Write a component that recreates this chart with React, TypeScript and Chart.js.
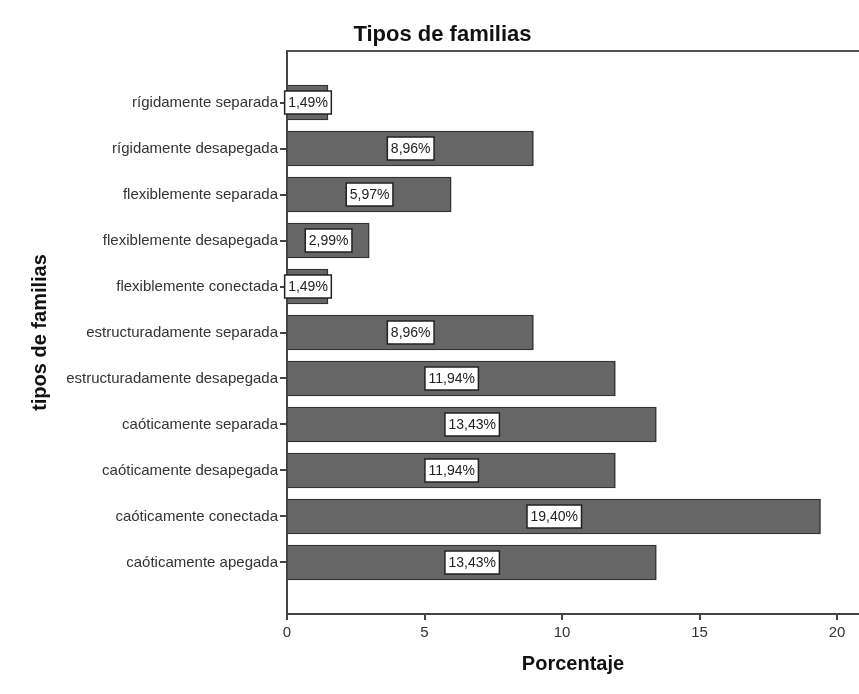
import React, { useEffect, useRef } from "react";
import { Chart, registerables } from "chart.js";

Chart.register(...registerables);

const categories = [
  "rígidamente separada",
  "rígidamente desapegada",
  "flexiblemente separada",
  "flexiblemente desapegada",
  "flexiblemente conectada",
  "estructuradamente separada",
  "estructuradamente desapegada",
  "caóticamente separada",
  "caóticamente desapegada",
  "caóticamente conectada",
  "caóticamente apegada",
];
const values = [1.49, 8.96, 5.97, 2.99, 1.49, 8.96, 11.94, 13.43, 11.94, 19.4, 13.43];
const xTicks = [0, 5, 10, 15, 20];

const FONT = '"Liberation Sans", Arial, sans-serif';

const fmt = (v: number) => v.toFixed(2).replace(".", ",") + "%";

const topFrame = {
  id: "topFrame",
  afterDraw(chart: any) {
    const { ctx, chartArea } = chart;
    ctx.save();
    ctx.strokeStyle = "#555";
    ctx.lineWidth = 2;
    ctx.beginPath();
    ctx.moveTo(chartArea.left, chartArea.top);
    ctx.lineTo(chartArea.right, chartArea.top);
    ctx.stroke();
    ctx.restore();
  },
};

const barLabels = {
  id: "barLabels",
  afterDatasetsDraw(chart: any) {
    const { ctx } = chart;
    const meta = chart.getDatasetMeta(0);
    ctx.save();
    ctx.font = `14px ${FONT}`;
    ctx.textAlign = "center";
    ctx.textBaseline = "middle";
    meta.data.forEach((bar: any, i: number) => {
      const { x, y, base } = bar.getProps(["x", "y", "base"], true);
      const cx = (x + base) / 2;
      const text = fmt(values[i]);
      const w = ctx.measureText(text).width + 7;
      const h = 23;
      ctx.fillStyle = "#fff";
      ctx.strokeStyle = "#222";
      ctx.lineWidth = 1.5;
      ctx.beginPath();
      ctx.rect(cx - w / 2, y - h / 2, w, h);
      ctx.fill();
      ctx.stroke();
      ctx.fillStyle = "#222";
      ctx.fillText(text, cx, y + 1);
    });
    ctx.restore();
  },
};

export default function App() {
  const ref = useRef<HTMLCanvasElement>(null);
  useEffect(() => {
    if (!ref.current) return;
    const chart = new Chart(ref.current, {
      type: "bar",
      data: {
        datasets: [
          {
            data: values.map((v, i) => ({ x: v, y: i })) as any,
            backgroundColor: "#666666",
            borderColor: "#333333",
            borderWidth: 1.5,
            barThickness: 35,
          },
        ],
      },
      options: {
        indexAxis: "y",
        responsive: false,
        animation: false,
        layout: { padding: { left: 26, right: 0, top: 0, bottom: 0 } },
        plugins: {
          legend: { display: false },
          tooltip: { enabled: false },
          title: {
            display: true,
            text: "Tipos de familias",
            color: "#111",
            font: { size: 22, weight: "bold", family: FONT },
            padding: { top: 22, bottom: 2.6 },
          },
        },
        scales: {
          x: {
            type: "linear",
            position: "bottom",
            min: 0,
            max: 20.8,
            offset: false,
            afterBuildTicks: (s: any) => {
              s.ticks = xTicks.map((v) => ({ value: v }));
            },
            ticks: {
              includeBounds: false,
              color: "#333",
              font: { size: 15, family: FONT },
              padding: 4,
              maxRotation: 0,
            },
            grid: { offset: false, drawOnChartArea: false, tickLength: 6, tickColor: "#444", lineWidth: 2 },
            border: { color: "#444", width: 2 },
            title: {
              display: true,
              text: "Porcentaje",
              color: "#111",
              font: { size: 20, weight: "bold", family: FONT },
              padding: { top: 0, bottom: 18 },
            },
            afterFit: (s: any) => {
              s.height = 80;
            },
          } as any,
          y: {
            type: "linear",
            reverse: true,
            min: -1.12,
            max: 11.12,
            offset: false,
            afterBuildTicks: (s: any) => {
              s.ticks = categories.map((_, i) => ({ value: i }));
            },
            ticks: {
              autoSkip: false,
              color: "#333",
              font: { size: 15, family: FONT },
              padding: 2,
              callback: (v: any) => categories[v as number] ?? "",
            },
            grid: { offset: false, drawOnChartArea: false, tickLength: 7, tickColor: "#444", lineWidth: 2 },
            border: { color: "#444", width: 2 },
            title: {
              display: true,
              text: "tipos de familias",
              color: "#111",
              font: { size: 20, weight: "bold", family: FONT },
              padding: { top: 2, bottom: 0 },
            },
            afterFit: (s: any) => {
              s.width = 261;
            },
          } as any,
        },
      },
      plugins: [topFrame, barLabels],
    });
    return () => chart.destroy();
  }, []);
  return (
    <div style={{ position: "fixed", left: 0, top: 0, width: 859, height: 694, background: "#fff" }}>
      <canvas ref={ref} width={859} height={694} />
    </div>
  );
}
